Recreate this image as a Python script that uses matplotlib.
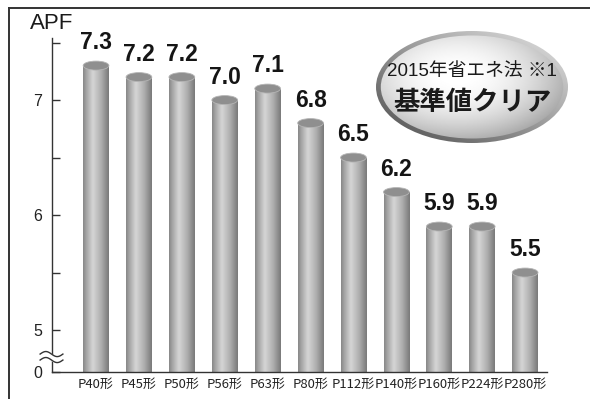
import numpy as np
import matplotlib
matplotlib.use('Agg')
import matplotlib.pyplot as plt
from matplotlib.patches import Ellipse
from matplotlib.lines import Line2D
from matplotlib.colors import LinearSegmentedColormap
from matplotlib import transforms

# data
models = ['P40形', 'P45形', 'P50形', 'P56形', 'P63形', 'P80形',
          'P112形', 'P140形', 'P160形', 'P224形', 'P280形']
apf = [7.3, 7.2, 7.2, 7.0, 7.1, 6.8, 6.5, 6.2, 5.9, 5.9, 5.5]
ytick_vals = [5, 5.5, 6, 6.5, 7, 7.5]
ytick_labels = ['5', '', '6', '', '7', '']
badge_line1 = '2015年省エネ法 ※1'
badge_line2 = '基準値クリア'

# the axis is broken: "0" is drawn just below 5
ybase = 4.635
ytop = 7.54

latin = ['Liberation Sans', 'Noto Sans CJK JP']
narrow = ['Liberation Sans Narrow', 'Noto Sans CJK JP']
cjk = ['Noto Sans CJK JP', 'DejaVu Sans']

fig = plt.figure(figsize=(5.9, 3.99), dpi=100)
ax = fig.add_axes([52/590, 27/399, 495/590, 334/399])

x = np.arange(len(models))
bar_w = 0.6
bars = ax.bar(x, np.array(apf) - ybase, bottom=ybase, width=bar_w,
              color='none', edgecolor='none', zorder=2)

# cylinder shading
cyl = LinearSegmentedColormap.from_list('cyl', [
    (0.0, '#888888'), (0.12, '#a4a4a4'), (0.38, '#d6d6d6'),
    (0.7, '#afafaf'), (1.0, '#7a7a7a')])
grad = np.linspace(0, 1, 64).reshape(1, -1)
cap_h = 9 / 115  # ellipse height in data units
for b, v in zip(bars, apf):
    x0, w = b.get_x(), b.get_width()
    im = ax.imshow(grad, cmap=cyl, aspect='auto', zorder=2,
                   extent=[x0, x0 + w, ybase, v], interpolation='bicubic')
    im.set_clip_path(b)
    ax.add_patch(Ellipse((x0 + w/2, v), w, cap_h, facecolor='#8f8f8f',
                         edgecolor='#b5b5b5', lw=0.6, zorder=3))
    ax.annotate(f'{v:.1f}', (x0 + w/2, v), xytext=(0, 8),
                textcoords='offset points', ha='center', va='bottom',
                fontsize=16.5, fontweight='bold', family=latin,
                color='#151515')

ax.set_xlim(-1.026, 10.51)
ax.set_ylim(ybase, ytop)

ax.set_yticks([ybase] + ytick_vals)
ax.set_yticklabels(['0'] + ytick_labels, family=latin, fontsize=11.5,
                   color='#222222')
ax.tick_params(axis='y', direction='in', length=6, width=1,
               color='#333333', pad=7)
ax.set_xticks(x)
ax.set_xticklabels(models, family=narrow, fontsize=9.4, color='#222222')
ax.tick_params(axis='x', length=0, pad=4)

for s in ['top', 'right']:
    ax.spines[s].set_visible(False)
for s in ['left', 'bottom']:
    ax.spines[s].set_color('#333333')
    ax.spines[s].set_linewidth(1)

ax.annotate('APF', (0, 1), xycoords='axes fraction', xytext=(0, 3),
            textcoords='offset points', ha='center', va='bottom',
            fontsize=16, family=latin, color='#1a1a1a')

# break mark on the y axis
tr = transforms.blended_transform_factory(ax.transAxes, ax.transData)
yb = 4.765
t = np.linspace(0, 1, 60)
xs = -0.024 + 0.046 * t
wave = 0.022 * np.sin(2 * np.pi * t)
ax.fill_between(xs, yb - 0.026 + wave, yb + 0.026 + wave, color='white',
                transform=tr, clip_on=False, zorder=5)
for off in (-0.026, 0.026):
    ax.plot(xs, yb + off + wave, color='#333333', lw=1, transform=tr,
            clip_on=False, zorder=6)

# outer frame (top and left only)
fig.add_artist(Line2D([9/590, 1], [1 - 8/399] * 2, color='#333333', lw=1.4))
fig.add_artist(Line2D([9/590] * 2, [0, 1 - 8/399], color='#333333', lw=1.4))

# silver badge
bx = fig.add_axes([376/590, (399 - 143)/399, 192/590, 112/399])
bx.set_xlim(0, 1)
bx.set_ylim(0, 1)
bx.axis('off')
X, Y = np.meshgrid(np.linspace(0, 1, 200), np.linspace(0, 1, 200))
rim = np.clip(0.6 + 0.3 * (X + Y - 1), 0, 1)
outer = Ellipse((0.5, 0.5), 1, 1, facecolor='none', edgecolor='none')
bx.add_patch(outer)
im = bx.imshow(rim, cmap='gray', vmin=0, vmax=1, origin='lower',
               extent=[0, 1, 0, 1], aspect='auto')
im.set_clip_path(outer)
r2 = ((X - 0.45) / 0.5) ** 2 + ((Y - 0.6) / 0.5) ** 2
face = np.clip(1.0 - 0.24 * r2 - 0.06 * (X - 0.5), 0, 1)
inner = Ellipse((0.5, 0.5), 0.95, 0.92, facecolor='none', edgecolor='none')
bx.add_patch(inner)
im2 = bx.imshow(face, cmap='gray', vmin=0, vmax=1, origin='lower',
                extent=[0, 1, 0, 1], aspect='auto')
im2.set_clip_path(inner)
bx.text(0.5, 0.63, badge_line1, ha='center', va='center', fontsize=13.5,
        family=latin, color='#1a1a1a')
bx.text(0.5, 0.36, badge_line2, ha='center', va='center', fontsize=19,
        fontweight='bold', family=cjk, color='#1a1a1a')

fig.savefig('out.png', dpi=100)
